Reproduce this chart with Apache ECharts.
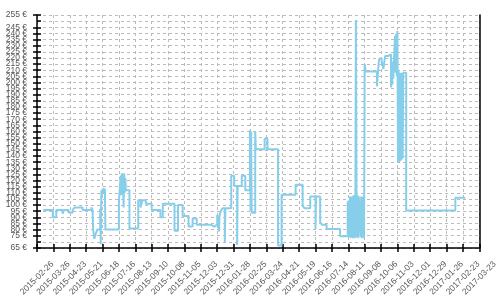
<!DOCTYPE html>
<html>
<head>
<meta charset="utf-8">
<script src="https://cdn.jsdelivr.net/npm/echarts@6/dist/echarts.min.js"></script>
<style>html,body{margin:0;padding:0;background:#fff}#c{width:500px;height:300px}</style>
</head>
<body>
<div id="c"></div>
<script>
// x = days since 2015-02-26
const tickLabels = ['2015-02-26','2015-03-26','2015-04-23','2015-05-21','2015-06-18','2015-07-16','2015-08-13','2015-09-10','2015-10-08','2015-11-05','2015-12-03','2015-12-31','2016-01-28','2016-02-25','2016-03-24','2016-04-21','2016-05-19','2016-06-16','2016-07-14','2016-08-11','2016-09-08','2016-10-06','2016-11-03','2016-12-01','2016-12-29','2017-01-26','2017-02-23','2017-03-23'];
const days = [11,27,33,44,46,54,61,64,78,93,95,96,98,100,101,103,108,109,110,111,112,113,114,115,116,117,140,143,144,145,146,147,148,149,150,151,152,158,173,177,180,186,196,211,215,235,241,249,259,266,273,297,303,308,311,312,314,317,321,322,332,337,342,343,350,356,364,365,366,367,368,373,374,389,394,412,418,442,454,457,467,476,477,484,487,495,518,531,532,533,534,535,536,537,538,539,540,541,542,543,544,545,546,547,548,549,550,553,554,555,556,557,558,559,560,561,562,581,584,585,589,592,595,600,605,606,607,608,609,610,612,613,614,615,616,617,618,619,620,621,622,623,624,625,626,631,715,732];
const prices = [96,90,96,93,96,94,96,98,96,98,96,80,72.5,76,74.5,80,97,68,112,108,113,110,114,111,113,80,103,124,108,126,112,125,98,126,110,122,112,81,104,98,104,101,96,90,101,79,100,91,82.5,89,84,82.5,84,92,78.5,92,95,97.5,69.5,97.5,124,115.5,67.5,115.5,124,112,161,95,160,94,93.5,160,145.5,154,145.5,67,108.5,116.5,99.5,97.5,107,80.5,107,86,84,80.5,74.5,103,74,104,74,107,73,107,74,107,73,108,74,108,73,251,108,74,108,73,107,74,107,73,107,74,107,73,215,211.5,209,197,215.5,219.5,217.5,211,221.5,223,196,217,198,217,203,218,238,208,240,205,242,136,210,135,208,136,208,137,208,138,208,95.5,106,106];

const data = days.map((d, i) => [d, prices[i]]);
const XMIN = 0, XMAX = 756, XINT = 28;
const YMIN = 65, YMAX = 255, YINT = 5;

const chart = echarts.init(document.getElementById('c'), null, {renderer: 'canvas'});
const grid = {left: 37, right: 15, top: 15, bottom: 52};
chart.setOption({
  animation: false,
  grid: grid,
  xAxis: [
    {
      type: 'value', min: XMIN, max: XMAX, interval: XINT, position: 'bottom',
      axisLine: {show: true, lineStyle: {color: '#000', width: 1.5}},
      axisTick: {show: true, inside: false, length: 4, lineStyle: {color: '#000', width: 1.5}},
      axisLabel: {
        show: true, rotate: 45, align: 'center', verticalAlign: 'middle', margin: 30,
        hideOverlap: false, showMinLabel: true, showMaxLabel: true,
        fontSize: 8.5, color: '#555', fontFamily: 'Liberation Sans',
        formatter: v => tickLabels[Math.round(v / XINT)] || ''
      },
      splitLine: {show: true, lineStyle: {color: '#bbb', type: [3, 3], width: 1}}
    },
    {
      type: 'value', min: XMIN, max: XMAX, interval: XINT, position: 'bottom', offset: 0,
      axisLine: {show: false},
      axisTick: {show: true, inside: true, length: 4, lineStyle: {color: '#000', width: 1.5}},
      axisLabel: {show: false}, splitLine: {show: false}
    }
  ],
  yAxis: [
    {
      type: 'value', min: YMIN, max: YMAX, interval: YINT, position: 'left',
      axisLine: {show: true, lineStyle: {color: '#000', width: 1.5}},
      axisTick: {show: true, inside: false, length: 4, lineStyle: {color: '#000', width: 1.5}},
      axisLabel: {show: true, margin: 10, fontSize: 8.5, color: '#555', fontFamily: 'Liberation Sans',
        hideOverlap: false, showMinLabel: true, showMaxLabel: true, interval: 0,
        formatter: v => v + ' €'},
      splitLine: {show: true, lineStyle: {color: '#bbb', type: [3, 3], width: 1}}
    },
    {
      type: 'value', min: YMIN, max: YMAX, interval: YINT, position: 'left', offset: 0,
      axisLine: {show: false},
      axisTick: {show: true, inside: true, length: 4, lineStyle: {color: '#000', width: 1.5}},
      axisLabel: {show: false}, splitLine: {show: false}
    },
    {
      type: 'value', min: YMIN, max: YMAX, interval: YINT, position: 'right', offset: 0,
      axisLine: {show: true, lineStyle: {color: '#000', width: 1.5}},
      axisTick: {show: false}, axisLabel: {show: false}, splitLine: {show: false}
    }
  ],
  series: [{
    type: 'line', step: 'end', data: data, xAxisIndex: 0, yAxisIndex: 0,
    showSymbol: false, symbol: 'none',
    lineStyle: {color: '#87CEEB', width: 2},
    itemStyle: {color: '#87CEEB'}
  }]
});
</script>
</body>
</html>
